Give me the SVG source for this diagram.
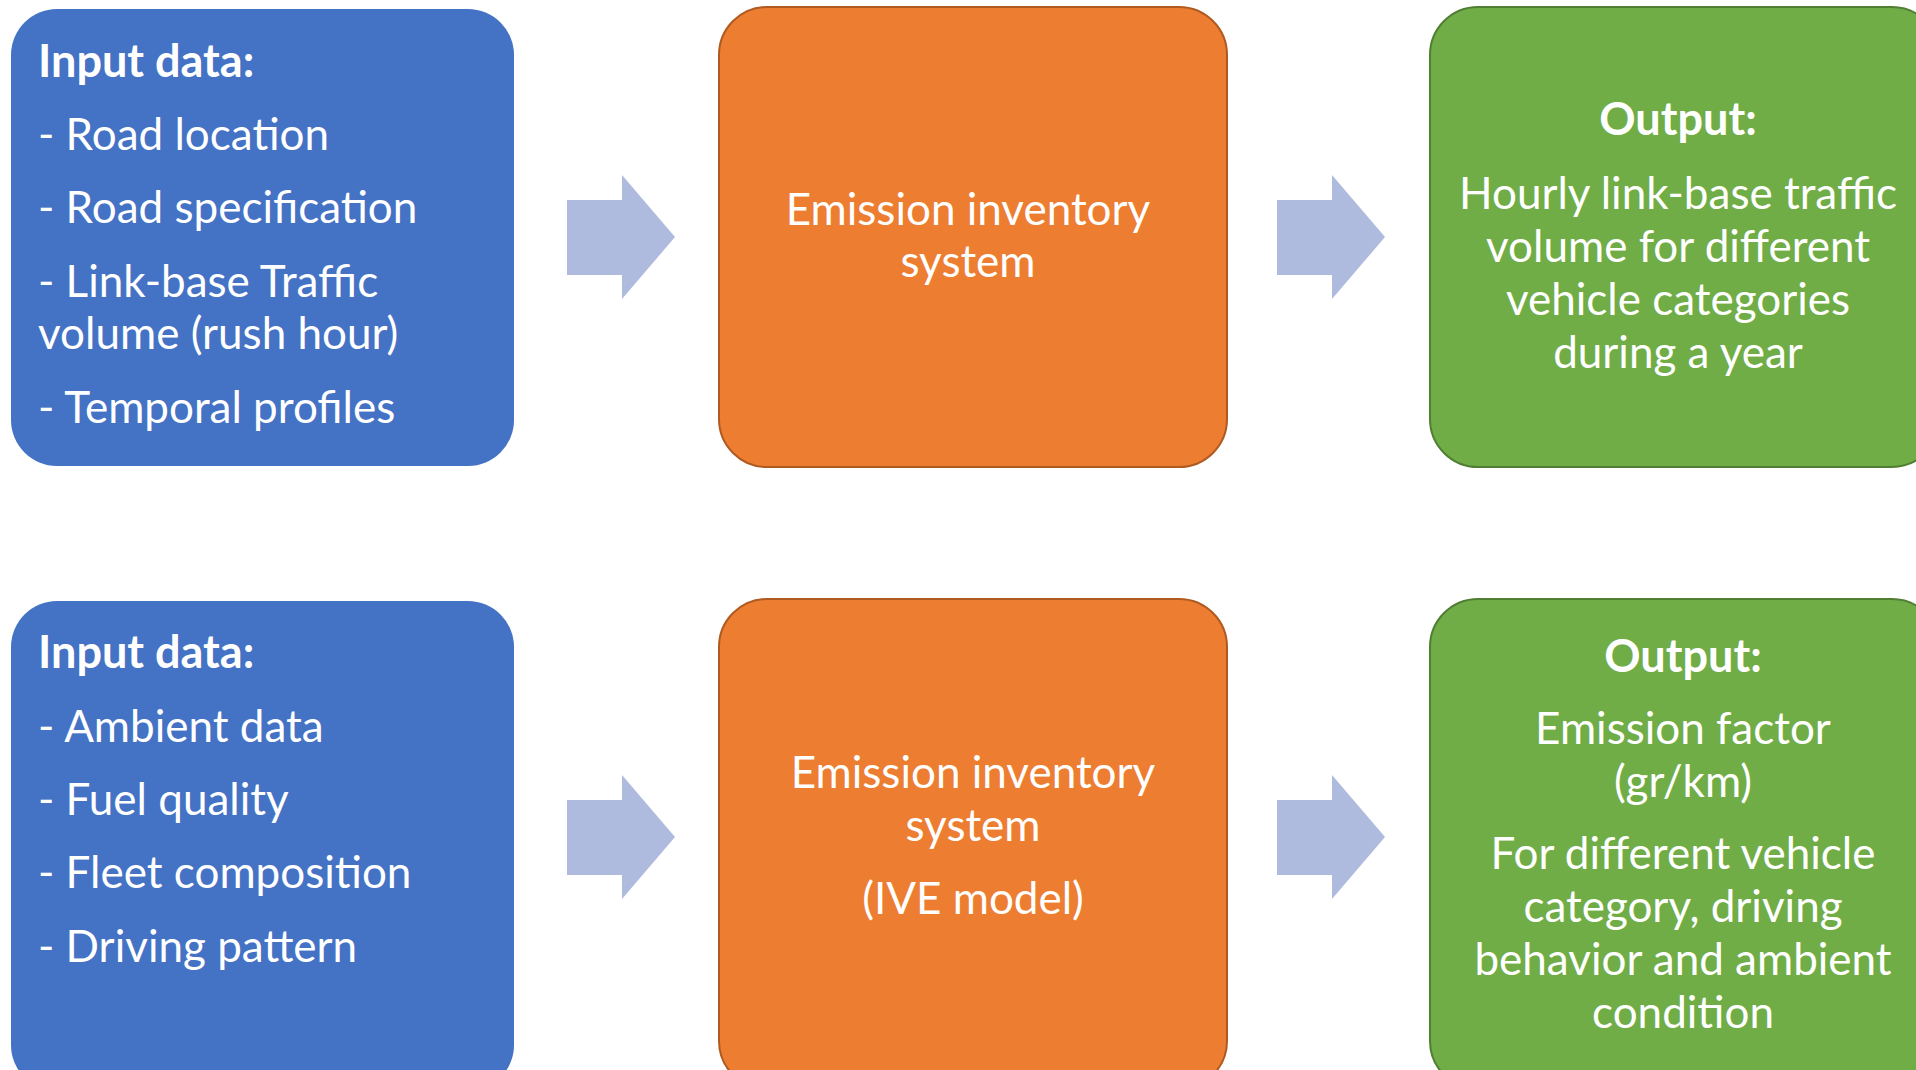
<svg xmlns="http://www.w3.org/2000/svg" width="1916" height="1070" viewBox="0 0 1916 1070">
<defs>
<style>
.t{font-family:Lato,"Open Sans","Liberation Sans",sans-serif;font-size:44px;fill:#ffffff}
.b{font-weight:bold;font-size:45px}
.c{text-anchor:middle}
.blue{fill:#4472c4}
.orange{fill:#ed7d31;stroke:#ae5a21;stroke-width:2}
.green{fill:#70ad47;stroke:#507e32;stroke-width:2}
.arr{fill:#afbbde}
</style>
</defs>
<rect width="1916" height="1070" fill="#ffffff"/>
<g id="input1">
<rect class="blue" x="11" y="9" width="503" height="457" rx="46"/>
<text class="t b" x="38" y="77">Input data:</text>
<text class="t" x="38" y="150">- Road location</text>
<text class="t" x="38" y="223">- Road specification</text>
<text class="t" x="38" y="297">- Link-base Traffic</text>
<text class="t" x="38" y="349">volume (rush hour)</text>
<text class="t" x="38" y="423">- Temporal profiles</text>
</g>
<g id="system1">
<rect class="orange" x="719" y="7" width="508" height="460" rx="48"/>
<text class="t c" x="968" y="225">Emission inventory</text>
<text class="t c" x="968" y="277">system</text>
</g>
<g id="output1">
<rect class="green" x="1430" y="7" width="510" height="460" rx="48"/>
<text class="t b c" x="1678" y="135">Output:</text>
<text class="t c" x="1678" y="209">Hourly link-base traffic</text>
<text class="t c" x="1678" y="262">volume for different</text>
<text class="t c" x="1678" y="315">vehicle categories</text>
<text class="t c" x="1678" y="368">during a year</text>
</g>
<g id="input2">
<rect class="blue" x="11" y="601" width="503" height="490" rx="46"/>
<text class="t b" x="38" y="668">Input data:</text>
<text class="t" x="38" y="742">- Ambient data</text>
<text class="t" x="38" y="815">- Fuel quality</text>
<text class="t" x="38" y="888">- Fleet composition</text>
<text class="t" x="38" y="962">- Driving pattern</text>
</g>
<g id="system2">
<rect class="orange" x="719" y="599" width="508" height="490" rx="48"/>
<text class="t c" x="973" y="788">Emission inventory</text>
<text class="t c" x="973" y="841">system</text>
<text class="t c" x="973" y="914">(IVE model)</text>
</g>
<g id="output2">
<rect class="green" x="1430" y="599" width="510" height="490" rx="48"/>
<text class="t b c" x="1683" y="672">Output:</text>
<text class="t c" x="1683" y="744">Emission factor</text>
<text class="t c" x="1683" y="797">(gr/km)</text>
<text class="t c" x="1683" y="869">For different vehicle</text>
<text class="t c" x="1683" y="922">category, driving</text>
<text class="t c" x="1683" y="975">behavior and ambient</text>
<text class="t c" x="1683" y="1028">condition</text>
</g>
<g id="connectors">
<polygon class="arr" points="567,200 622,200 622,175 675,237 622,299 622,275 567,275"/>
<polygon class="arr" points="1277,200 1332,200 1332,175 1385,237 1332,299 1332,275 1277,275"/>
<polygon class="arr" points="567,800 622,800 622,775 675,837 622,899 622,875 567,875"/>
<polygon class="arr" points="1277,800 1332,800 1332,775 1385,837 1332,899 1332,875 1277,875"/>
</g>
</svg>
